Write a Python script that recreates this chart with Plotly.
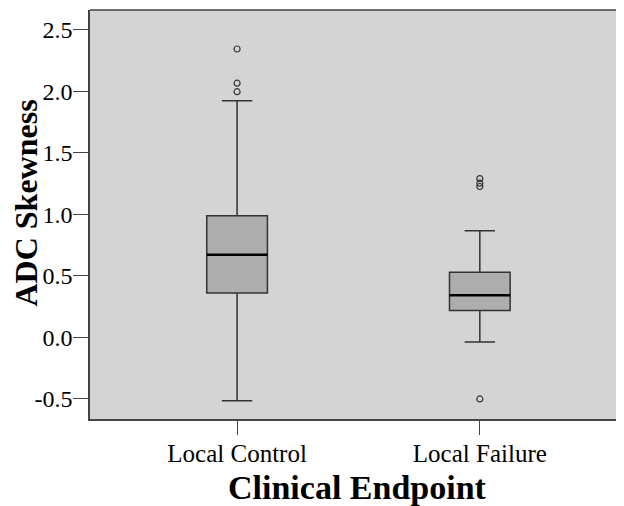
import plotly.graph_objects as go

categories = ["Local Control", "Local Failure"]
cat_pos = [0, 1]
q1 = [0.361, 0.219]
median = [0.672, 0.344]
q3 = [0.989, 0.531]
lower_fence = [-0.514, -0.037]
upper_fence = [1.925, 0.867]
outliers = [[2.345, 2.067, 1.998], [1.291, 1.254, 1.227, -0.500]]
y_ticks = [-0.5, 0.0, 0.5, 1.0, 1.5, 2.0, 2.5]
y_tick_text = ["-0.5", "0.0", "0.5", "1.0", "1.5", "2.0", "2.5"]
x_title = "Clinical Endpoint"
y_title = "ADC Skewness"

box_w = 0.25
font = "Liberation Serif, Times New Roman, serif"

fig = go.Figure()
for i, c in enumerate(categories):
    fig.add_trace(go.Box(
        x=[cat_pos[i]], q1=[q1[i]], median=[median[i]], q3=[q3[i]],
        lowerfence=[lower_fence[i]], upperfence=[upper_fence[i]],
        width=box_w, whiskerwidth=0.5, fillcolor="#adadad",
        line=dict(color="#333333", width=1.5), boxpoints=False,
        showlegend=False, hoverinfo="skip"))
    # median line (thicker, black)
    fig.add_trace(go.Scatter(
        x=[cat_pos[i] - box_w / 2, cat_pos[i] + box_w / 2],
        y=[median[i], median[i]], mode="lines",
        line=dict(color="black", width=2.5), showlegend=False, hoverinfo="skip"))
    fig.add_trace(go.Scatter(
        x=[cat_pos[i]] * len(outliers[i]), y=outliers[i], mode="markers",
        marker=dict(symbol="circle-open", size=6, color="#333333", line=dict(width=1.2)),
        showlegend=False, hoverinfo="skip"))

fig.update_layout(
    width=616, height=498,
    margin=dict(l=82, r=0, t=2, b=87),
    paper_bgcolor="white", plot_bgcolor="#d4d4d4",
    font=dict(family=font, color="black"),
    xaxis=dict(
        range=[-0.606, 1.594], tickmode="array", tickvals=cat_pos, ticktext=categories,
        showgrid=False, zeroline=False, showline=True, linecolor="#444444", linewidth=1.5,
        ticks="outside", ticklen=14, tickcolor="#444444", tickwidth=1.2,
        ticklabelstandoff=-3,
        tickfont=dict(size=25, family=font), automargin=False),
    yaxis=dict(
        range=[-0.663, 2.662], tickmode="array", tickvals=y_ticks, ticktext=y_tick_text,
        showgrid=False, zeroline=False, showline=True, linecolor="#444444", linewidth=1.5,
        ticks="outside", ticklen=15, tickcolor="#444444", tickwidth=1.2,
        ticklabelstandoff=-4,
        tickfont=dict(size=24, family=font), automargin=False),
    shapes=[dict(type="line", xref="paper", yref="paper", x0=0, x1=1, y0=1, y1=1,
                 line=dict(color="#444444", width=1.5))],
    annotations=[
        dict(text="<b>" + x_title + "</b>", xref="paper", yref="paper", x=0.5, y=0,
             xanchor="center", yanchor="middle", yshift=-68, showarrow=False,
             font=dict(size=34, family=font, color="black")),
        dict(text="<b>" + y_title + "</b>", xref="paper", yref="paper", x=0, y=0.5,
             xanchor="center", yanchor="middle", xshift=-65, yshift=11, textangle=-90,
             showarrow=False, font=dict(size=32, family=font, color="black")),
    ],
)

fig.write_html("out.html")
